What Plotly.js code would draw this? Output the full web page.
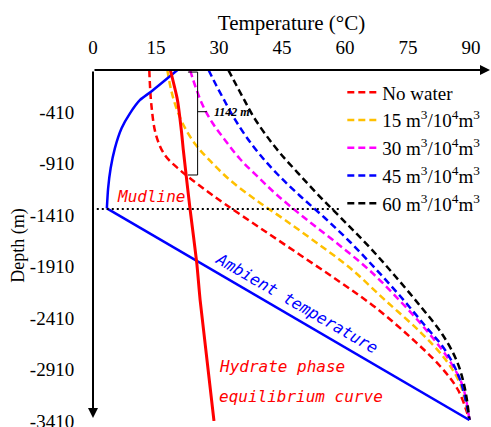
<!DOCTYPE html>
<html>
<head>
<meta charset="utf-8">
<script src="https://cdn.plot.ly/plotly-3.0.1.min.js"></script>
<style>html,body{margin:0;padding:0;background:#fff;}#chart{width:491px;height:427px;}</style>
</head>
<body>
<div id="chart"></div>
<script>
// ---- data (temperature in °C, depth in m) ----
var xTicks = [0, 15, 30, 45, 60, 75, 90];
var yTicks = [-410, -910, -1410, -1910, -2410, -2910, -3410];

var noWaterDepth = [0, -340, -631, -826, -972, -1127, -1302, -1535, -1797, -2060, -2303, -2594, -2876, -3109, -3400];
var noWaterTemp  = [13.4, 13.9, 15.0, 17.1, 20.7, 25.5, 31.4, 39.8, 49.3, 58.8, 67.1, 75.5, 82.6, 86.9, 89.6];

var w15Depth = [0, -194, -389, -563, -729, -884, -1069, -1263, -1457, -1681, -1924, -2235, -2546, -2808, -3051, -3400];
var w15Temp  = [17.7, 18.6, 20.0, 21.9, 24.5, 27.9, 32.6, 38.8, 45.7, 53.3, 61.2, 69.5, 77.9, 83.8, 87.4, 89.6];

var w30Depth = [0, -175, -350, -505, -680, -865, -1040, -1214, -1448, -1690, -1953, -2244, -2516, -2788, -3060, -3400];
var w30Temp  = [23.1, 24.5, 26.2, 28.3, 31.4, 35.0, 39.3, 43.8, 50.7, 58.3, 66.0, 73.1, 79.1, 84.3, 87.9, 89.6];

var w45Depth = [0, -146, -291, -447, -632, -826, -1020, -1224, -1438, -1671, -1924, -2196, -2487, -2720, -3012, -3400];
var w45Temp  = [27.5, 29.3, 31.2, 33.3, 36.2, 39.8, 44.1, 49.3, 55.2, 61.2, 67.1, 73.1, 79.1, 83.8, 87.4, 89.6];

var w60Depth = [0, -146, -291, -447, -622, -806, -1001, -1234, -1477, -1729, -2001, -2293, -2565, -2837, -3109, -3400];
var w60Temp  = [32.2, 34.1, 36.0, 38.1, 41.0, 44.5, 48.8, 54.1, 60.0, 66.0, 71.9, 77.9, 83.1, 86.7, 88.6, 89.6];

var ambientSeaDepth = [0, -211, -291, -421, -566, -761, -955, -1149, -1344];
var ambientSeaTemp  = [20.1, 13.8, 11.2, 8.8, 6.8, 5.2, 4.2, 3.6, 3.3];
var ambientRockDepth = [-1344, -3400];
var ambientRockTemp  = [3.3, 89.6];

var hydrateDepth = [0, -291, -612, -777, -1350, -1875, -2235, -3410];
var hydrateTemp  = [18.4, 20.1, 21.1, 21.5, 23.1, 24.7, 25.5, 28.8];

var mudlineDepth = -1350;
var mudlineTemp = [0.9, 58.8];

var seriesNames = ['No water', '15 m<sup>3</sup>/10<sup>4</sup>m<sup>3</sup>', '30 m<sup>3</sup>/10<sup>4</sup>m<sup>3</sup>',
                   '45 m<sup>3</sup>/10<sup>4</sup>m<sup>3</sup>', '60 m<sup>3</sup>/10<sup>4</sup>m<sup>3</sup>'];
var seriesColors = ['#FF0000', '#FFC000', '#FF00FF', '#0000FF', '#000000'];

// ---- traces ----
var dashX = [noWaterTemp, w15Temp, w30Temp, w45Temp, w60Temp];
var dashY = [noWaterDepth, w15Depth, w30Depth, w45Depth, w60Depth];
var traces = [];
for (var i = 0; i < 5; i++) {
  traces.push({
    x: dashX[i], y: dashY[i], type: 'scatter', mode: 'lines', name: seriesNames[i],
    line: {color: seriesColors[i], width: 2.5, dash: '7px,4px', shape: 'spline', smoothing: 1}
  });
}
traces.push({x: ambientSeaTemp, y: ambientSeaDepth, mode: 'lines', showlegend: false,
  line: {color: '#0000FF', width: 2.5, shape: 'spline', smoothing: 0.6}});
traces.push({x: ambientRockTemp, y: ambientRockDepth, mode: 'lines', showlegend: false,
  line: {color: '#0000FF', width: 2.5}});
traces.push({x: hydrateTemp, y: hydrateDepth, mode: 'lines', showlegend: false,
  line: {color: '#FF0000', width: 3, shape: 'spline', smoothing: 0.6}});
traces.push({x: mudlineTemp, y: [mudlineDepth, mudlineDepth], mode: 'lines', showlegend: false,
  line: {color: '#000000', width: 2, dash: '2px,3px'}});

var serif = 'Liberation Serif, Times New Roman, serif';
var mono = 'DejaVu Sans Mono, monospace';

var layout = {
  width: 491, height: 427,
  margin: {l: 93, r: 1, t: 70, b: 6},
  paper_bgcolor: '#fff', plot_bgcolor: 'rgba(0,0,0,0)',
  showlegend: true,
  legend: {x: 0.628, y: 0.99, xanchor: 'left', yanchor: 'top', bgcolor: 'rgba(0,0,0,0)',
           font: {family: serif, size: 19, color: '#000'}, tracegroupgap: 0},
  xaxis: {
    side: 'top', range: [0, 94.5], tickvals: xTicks, ticktext: xTicks.map(String),
    showgrid: false, zeroline: false, showline: false,
    ticks: 'outside', ticklen: 7, tickcolor: 'rgba(0,0,0,0)',
    tickfont: {family: serif, size: 19, color: '#000'},
    title: {text: 'Temperature (°C)', font: {family: serif, size: 21, color: '#000'}, standoff: 1}
  },
  yaxis: {
    range: [-3410, 0], tickvals: yTicks, ticktext: yTicks.map(String),
    showgrid: false, zeroline: false, showline: false, ticklabeloverflow: 'allow',
    ticks: 'outside', ticklen: 14, tickcolor: 'rgba(0,0,0,0)',
    tickfont: {family: serif, size: 19, color: '#000'},
    title: {text: 'Depth (m)', font: {family: serif, size: 18, color: '#000'}, standoff: 0}
  },
  shapes: [
    // 1142 m brace
    {type: 'path', xref: 'x', yref: 'y', path: 'M 22.6,-20 L 24.9,-20 L 24.9,-1020 L 22.6,-1020 M 24.9,-405 L 27.1,-405',
     line: {color: '#000', width: 1}}
  ],
  annotations: [
    // axis arrows
    {x: 94.5, y: 0, ax: 0, ay: 0, xref: 'x', yref: 'y', axref: 'x', ayref: 'y', text: '', showarrow: true,
     arrowhead: 2, arrowsize: 1, arrowwidth: 2, arrowcolor: '#000'},
    {x: 0, y: -3380, ax: 0, ay: 0, xref: 'x', yref: 'y', axref: 'x', ayref: 'y', text: '', showarrow: true,
     arrowhead: 2, arrowsize: 1, arrowwidth: 2, arrowcolor: '#000'},
    {x: 13.8, y: -1231, xref: 'x', yref: 'y', text: '<i>Mudline</i>', showarrow: false,
     font: {family: mono, size: 16, color: '#FF0000'}},
    {x: 48.6, y: -2264, xref: 'x', yref: 'y', text: '<i>Ambient temperature</i>', showarrow: false, textangle: 30,
     font: {family: mono, size: 16, color: '#0000FF'}},
    {x: 29.5, y: -2880, xref: 'x', yref: 'y', xanchor: 'left', text: '<i>Hydrate phase</i>', showarrow: false,
     font: {family: mono, size: 16, color: '#FF0000'}},
    {x: 29.5, y: -3170, xref: 'x', yref: 'y', xanchor: 'left', text: '<i>equilibrium curve</i>', showarrow: false,
     font: {family: mono, size: 16, color: '#FF0000'}},
    {x: 28.4, y: -408, xref: 'x', yref: 'y', xanchor: 'left', text: '<b><i>1142 m</i></b>', showarrow: false,
     font: {family: serif, size: 12, color: '#000'}}
  ]
};

Plotly.newPlot('chart', traces, layout, {displayModeBar: false, staticPlot: true});
</script>
</body>
</html>
